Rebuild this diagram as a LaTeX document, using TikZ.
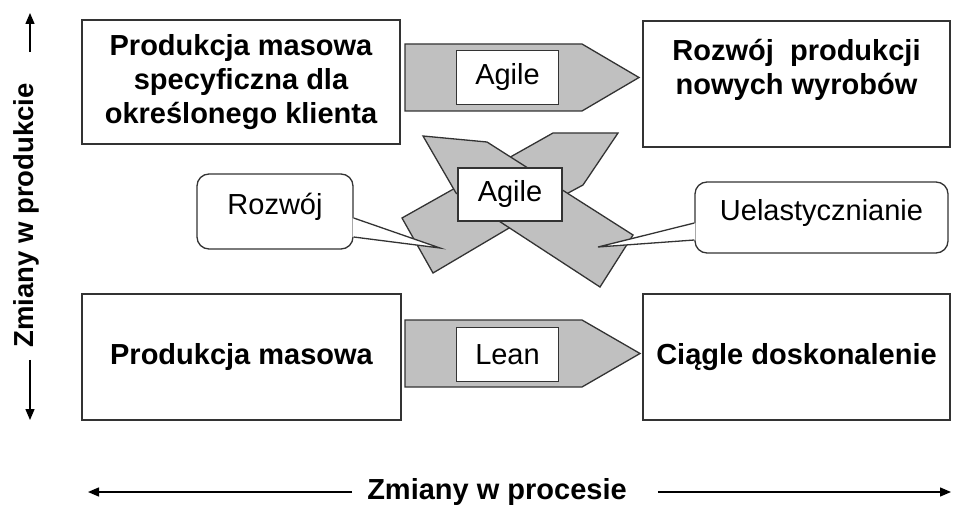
\documentclass[tikz,border=0pt]{standalone}
\usepackage{fontspec}
\setmainfont{Liberation Sans}
\usetikzlibrary{arrows.meta, positioning, calc}
\definecolor{arrowfill}{HTML}{C0C0C0}
\definecolor{edgegray}{HTML}{333333}

\begin{document}
\begin{tikzpicture}[
  x=1pt, y=-1pt,
  box/.style={rectangle, draw=edgegray, line width=1.3pt, fill=white, align=center, inner sep=0pt, font=\fontsize{29}{34}\selectfont\bfseries},
  tag/.style={rectangle, draw=edgegray, line width=1.3pt, fill=white, inner sep=0pt, minimum width=102pt, minimum height=54pt, font=\fontsize{29}{34}\selectfont},
  callout/.style={rectangle, rounded corners=12pt, draw=edgegray, line width=1.3pt, fill=white, inner sep=0pt, text height=22pt, text depth=16pt, font=\fontsize{29}{34}\selectfont},
  block/.style={draw=edgegray, line width=1.3pt, fill=arrowfill, line join=miter},
  pointer/.style={draw=edgegray, line width=1.3pt, line join=miter},
  axisarrow/.style={-{Triangle[length=11pt, width=9pt]}, line width=1.4pt, draw=black},
  axislabel/.style={inner sep=0pt, font=\fontsize{29}{34}\selectfont\bfseries}
]
  \useasboundingbox (0,0) rectangle (955,505);

  % the four fields
  \node[box, minimum width=318pt, minimum height=124pt] (custom) at (241,82) {Produkcja masowa\\specyficzna dla\\określonego klienta};
  \node[box, minimum width=307pt, minimum height=126pt] (newprod) at (796.5,84) {Rozwój~ produkcji\\nowych wyrobów\\\mbox{}};
  \node[box, minimum width=319pt, minimum height=126pt] (mass) at (241.5,357) {Produkcja masowa};
  \node[box, minimum width=307pt, minimum height=126pt] (kaizen) at (796.5,357) {Ciągle doskonalenie};

  % straight block arrows
  \draw[block] (405,44) -- (582,44) -- (639,77.5) -- (582,111) -- (405,111) -- cycle;
  \node[tag] (agiletop) at (507.5,77.5) {Agile};
  \draw[block] (405,320) -- (582,320) -- (640,353.5) -- (582,387) -- (405,387) -- cycle;
  \node[tag] (lean) at (507.5,354.5) {Lean};

  % crossed block arrows
  \draw[block] (402,218) -- (433,273) -- (570,192) -- (583,185) -- (618,133) -- (553,133) -- cycle;
  \draw[block] (423,136) -- (487,142) -- (633,235) -- (600,287) -- (456,193) -- cycle;
  \node[tag, minimum width=104pt, minimum height=53pt] (agilemid) at (510,194.5) {Agile};

  % callouts
  \node[callout, minimum width=156pt, minimum height=75pt] (growth) at (275,211.5) {Rozwój};
  \coordinate (growthtip) at (440,248);
  \fill[white] ($(growth.east)+(-1,6.5)$) -- (growthtip) -- ($(growth.east)+(-1,25.5)$) -- cycle;
  \draw[pointer] ($(growth.east)+(0,6.5)$) -- (growthtip) -- ($(growth.east)+(0,25.5)$);

  \node[callout, minimum width=253pt, minimum height=71pt] (flex) at (821.5,217.5) {Uelastycznianie};
  \coordinate (flextip) at (598,247);
  \fill[white] ($(flex.west)+(1,5.5)$) -- (flextip) -- ($(flex.west)+(1,22.5)$) -- cycle;
  \draw[pointer] ($(flex.west)+(0,5.5)$) -- (flextip) -- ($(flex.west)+(0,22.5)$);

  % axes
  \node[axislabel, rotate=90, font=\fontsize{27.5}{34}\selectfont\bfseries] (prodaxis) at (26,215.5) {Zmiany w produkcie};
  \coordinate (uptip) at (30,13);
  \coordinate (downtip) at (30,420);
  \draw[axisarrow] ($(prodaxis.east)+(4,-31)$) -- (uptip);
  \draw[axisarrow] ($(prodaxis.west)+(4,12)$) -- (downtip);

  \node[axislabel] (procaxis) at (497,492) {Zmiany w procesie};
  \coordinate (lefttip) at (88,492);
  \coordinate (righttip) at (951,492);
  \draw[axisarrow] ($(procaxis.west)+(-15,0)$) -- (lefttip);
  \draw[axisarrow] ($(procaxis.east)+(31,0)$) -- (righttip);
\end{tikzpicture}
\end{document}
